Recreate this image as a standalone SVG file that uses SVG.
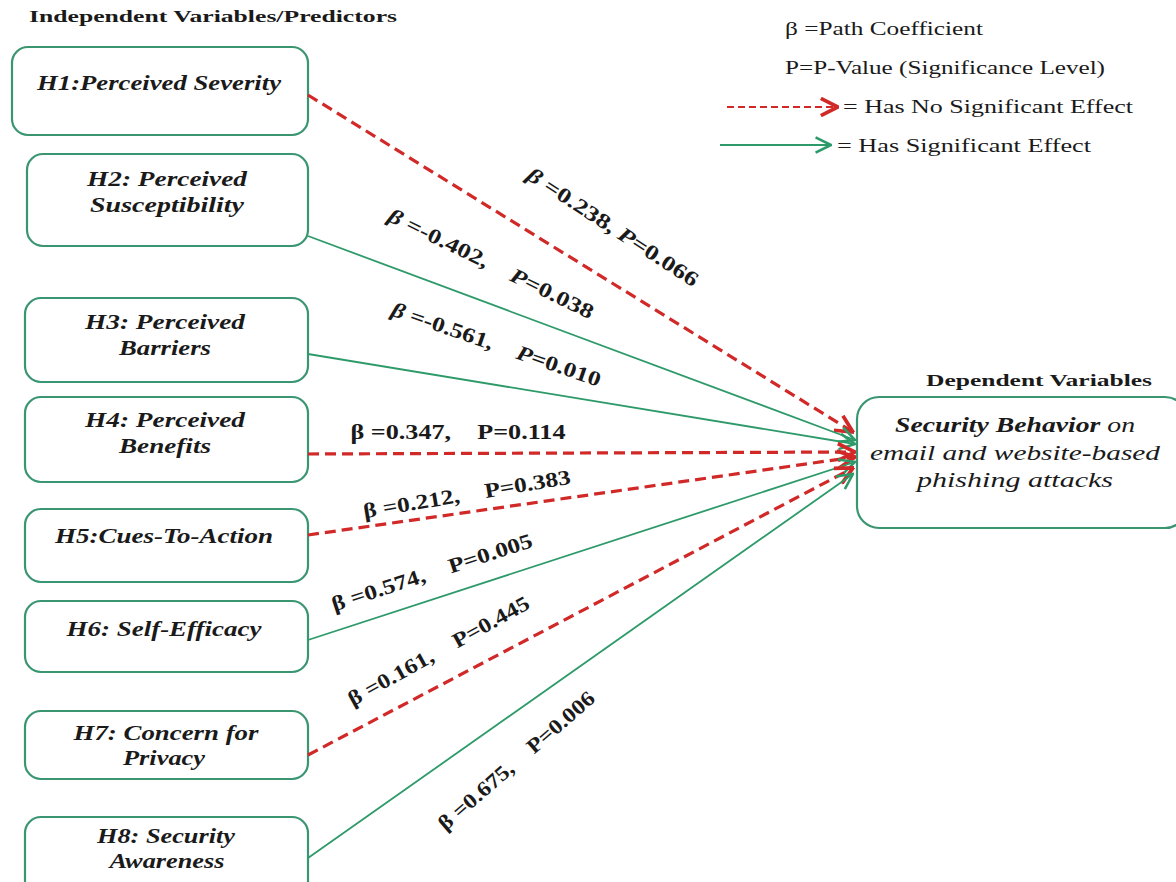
<svg xmlns="http://www.w3.org/2000/svg" width="1176" height="882" viewBox="0 0 1176 882">
<style>
text{font-family:"Liberation Serif","Times New Roman",Times,"DejaVu Serif","Noto Serif",serif;fill:#1a1a1a}
.box{fill:#fff;stroke:#3a9670;stroke-width:2.2}
.nl{font-weight:bold;font-style:italic;font-size:22px;text-anchor:middle}
.hd{font-weight:bold;font-size:17px}
.lg{font-size:19px}
.el{font-weight:bold;font-size:21px;text-anchor:middle}
.dl{font-style:italic;font-size:22px;text-anchor:middle}
.red{stroke:#d12828;stroke-width:3.2;stroke-dasharray:11 6;fill:none}
.grn{stroke:#2e9a6a;stroke-width:1.8;fill:none}
</style>
<defs>
<marker id="ar" markerUnits="userSpaceOnUse" markerWidth="20" markerHeight="20" viewBox="0 0 14 14" refX="13" refY="7" orient="auto">
<path d="M1,1 L13,7 L1,13" fill="none" stroke="#d12828" stroke-width="2.6"/>
</marker>
<marker id="ag" markerUnits="userSpaceOnUse" markerWidth="18" markerHeight="18" viewBox="0 0 14 14" refX="13" refY="7" orient="auto">
<path d="M1,1 L13,7 L1,13" fill="none" stroke="#2e9a6a" stroke-width="2"/>
</marker>
</defs>
<rect width="1176" height="882" fill="#fff"/>

<text class="hd" x="29" y="22" textLength="368" lengthAdjust="spacingAndGlyphs">Independent Variables/Predictors</text>

<g id="legend">
<text class="lg" x="785" y="35" textLength="198" lengthAdjust="spacingAndGlyphs">β =Path Coefficient</text>
<text class="lg" x="785" y="74" textLength="320" lengthAdjust="spacingAndGlyphs">P=P-Value (Significance Level)</text>
<line x1="727" y1="107" x2="838" y2="107" stroke="#d12828" stroke-width="2" stroke-dasharray="7 4" marker-end="url(#ar)"/>
<text class="lg" x="843" y="113" textLength="290" lengthAdjust="spacingAndGlyphs">= Has No Significant Effect</text>
<line x1="720" y1="145" x2="831" y2="145" stroke="#2e9a6a" stroke-width="2" marker-end="url(#ag)"/>
<text class="lg" x="837" y="152" textLength="254" lengthAdjust="spacingAndGlyphs">= Has Significant Effect</text>
</g>

<g id="H1"><rect class="box" x="12" y="47" width="296" height="88" rx="16"/><text class="nl" x="159" y="90" textLength="244" lengthAdjust="spacingAndGlyphs">H1:Perceived Severity</text></g>
<g id="H2"><rect class="box" x="27" y="154" width="281" height="92" rx="16"/><text class="nl" x="167" y="186" textLength="160" lengthAdjust="spacingAndGlyphs">H2: Perceived</text><text class="nl" x="167" y="212" textLength="154" lengthAdjust="spacingAndGlyphs">Susceptibility</text></g>
<g id="H3"><rect class="box" x="25" y="298" width="283" height="84" rx="16"/><text class="nl" x="165" y="329" textLength="160" lengthAdjust="spacingAndGlyphs">H3: Perceived</text><text class="nl" x="165" y="355" textLength="92" lengthAdjust="spacingAndGlyphs">Barriers</text></g>
<g id="H4"><rect class="box" x="25" y="397" width="283" height="85" rx="16"/><text class="nl" x="165" y="427" textLength="160" lengthAdjust="spacingAndGlyphs">H4: Perceived</text><text class="nl" x="165" y="453" textLength="92" lengthAdjust="spacingAndGlyphs">Benefits</text></g>
<g id="H5"><rect class="box" x="25" y="509" width="283" height="73" rx="16"/><text class="nl" x="164" y="543" textLength="218" lengthAdjust="spacingAndGlyphs">H5:Cues-To-Action</text></g>
<g id="H6"><rect class="box" x="25" y="601" width="283" height="71" rx="16"/><text class="nl" x="164" y="636" textLength="195" lengthAdjust="spacingAndGlyphs">H6: Self-Efficacy</text></g>
<g id="H7"><rect class="box" x="25" y="711" width="283" height="68" rx="16"/><text class="nl" x="166" y="740" textLength="185" lengthAdjust="spacingAndGlyphs">H7: Concern for</text><text class="nl" x="164" y="765" textLength="82" lengthAdjust="spacingAndGlyphs">Privacy</text></g>
<g id="H8"><rect class="box" x="25" y="817" width="283" height="80" rx="16"/><text class="nl" x="166" y="843" textLength="138" lengthAdjust="spacingAndGlyphs">H8: Security</text><text class="nl" x="167" y="868" textLength="115" lengthAdjust="spacingAndGlyphs">Awareness</text></g>

<g id="DV">
<text class="hd" x="926" y="386" textLength="226" lengthAdjust="spacingAndGlyphs">Dependent Variables</text>
<rect class="box" x="857" y="397" width="330" height="131" rx="22"/>
<text class="dl" x="1015" y="432" textLength="240" lengthAdjust="spacingAndGlyphs"><tspan font-weight="bold">Security Behavior</tspan> on</text>
<text class="dl" x="1015" y="460" textLength="290" lengthAdjust="spacingAndGlyphs">email and website-based</text>
<text class="dl" x="1015" y="487" textLength="196" lengthAdjust="spacingAndGlyphs">phishing attacks</text>
</g>

<g id="connectors">
<line class="red" x1="308" y1="95" x2="853" y2="432" marker-end="url(#ar)"/>
<line class="grn" x1="308" y1="236" x2="855" y2="440" marker-end="url(#ag)"/>
<line class="grn" x1="308" y1="354" x2="855" y2="444" marker-end="url(#ag)"/>
<line class="red" x1="308" y1="454" x2="855" y2="452" marker-end="url(#ar)"/>
<line class="red" x1="308" y1="535" x2="855" y2="457" marker-end="url(#ar)"/>
<line class="grn" x1="308" y1="640" x2="855" y2="462" marker-end="url(#ag)"/>
<line class="red" x1="308" y1="755" x2="853" y2="468" marker-end="url(#ar)"/>
<line class="grn" x1="308" y1="858" x2="853" y2="474" marker-end="url(#ag)"/>
</g>

<g id="labels">
<text class="el" transform="translate(609,233) rotate(33)" textLength="200" lengthAdjust="spacingAndGlyphs"><tspan font-style="italic">β</tspan> =0.238, <tspan font-style="italic">P</tspan>=0.066</text>
<text class="el" transform="translate(488,270) rotate(26)" textLength="226" lengthAdjust="spacingAndGlyphs" xml:space="preserve"><tspan font-style="italic">β</tspan> =-0.402,    <tspan font-style="italic">P</tspan>=0.038</text>
<text class="el" transform="translate(494,351) rotate(19)" textLength="220" lengthAdjust="spacingAndGlyphs" xml:space="preserve"><tspan font-style="italic">β</tspan> =-0.561,    <tspan font-style="italic">P</tspan>=0.010</text>
<text class="el" transform="translate(458,439)" textLength="215" lengthAdjust="spacingAndGlyphs" xml:space="preserve">β =0.347,    P=0.114</text>
<text class="el" transform="translate(468,501) rotate(-9.5)" textLength="210" lengthAdjust="spacingAndGlyphs" xml:space="preserve">β =0.212,    P=0.383</text>
<text class="el" transform="translate(434,579) rotate(-18)" textLength="210" lengthAdjust="spacingAndGlyphs" xml:space="preserve">β =0.574,    P=0.005</text>
<text class="el" transform="translate(442,657) rotate(-29)" textLength="204" lengthAdjust="spacingAndGlyphs" xml:space="preserve">β =0.161,    P=0.445</text>
<text class="el" transform="translate(521,766) rotate(-41)" textLength="200" lengthAdjust="spacingAndGlyphs" xml:space="preserve">β =0.675,    P=0.006</text>
</g>
</svg>
